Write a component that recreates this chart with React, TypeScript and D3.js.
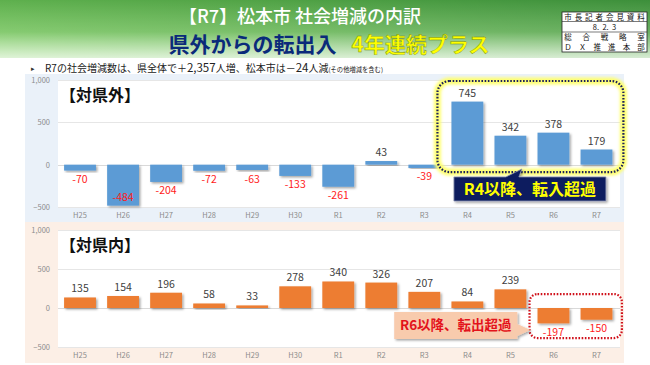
import * as d3 from "d3";
import { useEffect, useRef } from "react";

const years = ["H25", "H26", "H27", "H28", "H29", "H30", "R1", "R2", "R3", "R4", "R5", "R6", "R7"];
const outsideValues = [-70, -484, -204, -72, -63, -133, -261, 43, -39, 745, 342, 378, 179];
const insideValues = [135, 154, 196, 58, 33, 278, 340, 326, 207, 84, 239, -197, -150];
const yTicks = [1000, 500, 0, -500];

const FONT = "'Noto Sans CJK JP', 'Noto Sans', sans-serif";
const W = 650;
const H = 365;

function drawPanel(
  root: d3.Selection<SVGGElement, unknown, null, undefined>,
  opts: {
    values: number[];
    top: number;
    bottom: number;
    bg: [number, number, number, number];
    bgColor: string;
    barColor: string;
    title: string;
  }
) {
  const x = d3.scaleBand<string>().domain(years).range([58.5, 618]).paddingInner(0.26).paddingOuter(0.13);
  const y = d3.scaleLinear().domain([-500, 1000]).range([opts.bottom, opts.top]);
  const [bx, by, bw, bh] = opts.bg;

  const g = root.append("g");
  g.append("rect").attr("x", bx).attr("y", by).attr("width", bw).attr("height", bh).attr("fill", opts.bgColor);
  g.append("rect")
    .attr("x", 58)
    .attr("y", y(1000))
    .attr("width", 620 - 58)
    .attr("height", y(-500) - y(1000))
    .attr("fill", "#fff");

  // grid
  g.selectAll("line.grid")
    .data(yTicks)
    .enter()
    .append("line")
    .attr("x1", 58)
    .attr("x2", 620)
    .attr("y1", (d) => Math.round(y(d)) + 0.5)
    .attr("y2", (d) => Math.round(y(d)) + 0.5)
    .attr("stroke", (d) => (d === 0 ? "#d9d9d9" : "#e6e6e6"))
    .attr("stroke-width", 1);

  g.selectAll("text.ytick")
    .data(yTicks)
    .enter()
    .append("text")
    .attr("x", 50)
    .attr("y", (d) => y(d) + 3)
    .attr("text-anchor", "end")
    .attr("font-size", 7.5)
    .attr("fill", "#8c8c8c")
    .attr("font-family", FONT)
    .text((d) => d3.format(",")(d));

  g.selectAll("text.xtick")
    .data(years)
    .enter()
    .append("text")
    .attr("x", (d) => (x(d) ?? 0) + x.bandwidth() / 2)
    .attr("y", y(-500) + 11)
    .attr("text-anchor", "middle")
    .attr("font-size", 7.5)
    .attr("fill", "#8c8c8c")
    .attr("font-family", FONT)
    .text((d) => d);

  g.append("text")
    .attr("x", 60)
    .attr("y", y(1000) + 21)
    .attr("font-size", 16)
    .attr("font-weight", "bold")
    .attr("fill", "#111")
    .attr("font-family", FONT)
    .text(opts.title);

  const data = years.map((k, i) => ({ k, v: opts.values[i] }));

  g.selectAll("rect.bar")
    .data(data)
    .enter()
    .append("rect")
    .attr("x", (d) => x(d.k) ?? 0)
    .attr("y", (d) => y(Math.max(0, d.v)))
    .attr("width", x.bandwidth())
    .attr("height", (d) => Math.abs(y(d.v) - y(0)))
    .attr("fill", opts.barColor)
    .attr("filter", "url(#shadow)");

  g.selectAll("text.val")
    .data(data)
    .enter()
    .append("text")
    .attr("x", (d) => (x(d.k) ?? 0) + x.bandwidth() / 2)
    .attr("y", (d) => (d.v >= 0 ? y(d.v) - 5 : Math.min(y(d.v) + 12.5, y(-500) - 6)))
    .attr("text-anchor", "middle")
    .attr("font-size", 10.5)
    .attr("fill", (d) => (d.v >= 0 ? "#404040" : "#ff1a1a"))
    .attr("font-family", FONT)
    .text((d) => d.v);

  return { x, y };
}

// spread characters evenly across a row of the stamp box
function spreadRow(
  g: d3.Selection<SVGGElement, unknown, null, undefined>,
  chars: string[],
  x0: number,
  x1: number,
  yPos: number
) {
  const s = d3.scalePoint<number>().domain(d3.range(chars.length)).range([x0, x1]);
  g.selectAll(null)
    .data(chars)
    .enter()
    .append("text")
    .attr("x", (_, i) => s(i) ?? 0)
    .attr("y", yPos)
    .attr("text-anchor", "middle")
    .text((d) => d);
}

export default function App() {
  const ref = useRef<SVGSVGElement>(null);

  useEffect(() => {
    const svgEl = ref.current;
    if (!svgEl) return;
    const svg = d3.select(svgEl);
    svg.selectAll("*").remove();

    const defs = svg.append("defs");
    const hg = defs.append("linearGradient").attr("id", "hdr").attr("x1", "0%").attr("y1", "100%").attr("x2", "100%").attr("y2", "0%");
    hg.append("stop").attr("offset", "0%").attr("stop-color", "#7fd060");
    hg.append("stop").attr("offset", "100%").attr("stop-color", "#3d8f3b");
    const fade = defs.append("linearGradient").attr("id", "fade").attr("x1", "0").attr("y1", "0").attr("x2", "0").attr("y2", "1");
    fade.append("stop").attr("offset", "0%").attr("stop-color", "#fff").attr("stop-opacity", 0);
    fade.append("stop").attr("offset", "55%").attr("stop-color", "#fff").attr("stop-opacity", 0.15);
    fade.append("stop").attr("offset", "100%").attr("stop-color", "#fff").attr("stop-opacity", 0.75);
    const sh = defs.append("filter").attr("id", "shadow").attr("x", "-20%").attr("y", "-20%").attr("width", "150%").attr("height", "150%");
    sh.append("feDropShadow").attr("dx", 1.5).attr("dy", 1.5).attr("stdDeviation", 0.8).attr("flood-color", "#000").attr("flood-opacity", 0.35);
    const glow = defs.append("filter").attr("id", "glow").attr("x", "-10%").attr("y", "-10%").attr("width", "120%").attr("height", "120%");
    glow.append("feGaussianBlur").attr("stdDeviation", 1.5);

    const root = svg.append("g");
    root.append("rect").attr("width", W).attr("height", H).attr("fill", "#fff");

    // header
    root.append("rect").attr("x", 0).attr("y", 0).attr("width", W).attr("height", 58).attr("fill", "url(#hdr)");
    root.append("rect").attr("x", 0).attr("y", 0).attr("width", W).attr("height", 58).attr("fill", "url(#fade)");

    root.append("text")
      .attr("x", 300)
      .attr("y", 23)
      .attr("text-anchor", "middle")
      .attr("font-size", 18)
      .attr("fill", "#fff")
      .attr("font-family", FONT)
      .attr("font-weight", 500)
      .text("【R7】松本市 社会増減の内訳");

    const t2 = root.append("text")
      .attr("x", 329)
      .attr("y", 52)
      .attr("text-anchor", "middle")
      .attr("font-size", 21)
      .attr("font-weight", "bold")
      .attr("font-family", FONT);
    t2.append("tspan").attr("fill", "#0a2a7a").text("県外からの転出入");
    t2.append("tspan")
      .attr("fill", "#ffff00")
      .attr("stroke", "#6a8a20")
      .attr("stroke-width", 0.4)
      .attr("dx", 15)
      .text("4年連続プラス");

    // stamp box
    const bx = 562;
    const bw = 85;
    const stamp = root.append("g").attr("font-family", FONT).attr("font-size", 7.5).attr("fill", "#111");
    stamp.append("rect").attr("x", bx).attr("y", 12).attr("width", bw).attr("height", 40).attr("fill", "#fff").attr("stroke", "#222").attr("stroke-width", 0.8);
    stamp.append("line").attr("x1", bx).attr("x2", bx + bw).attr("y1", 21.5).attr("y2", 21.5).attr("stroke", "#222").attr("stroke-width", 0.6);
    stamp.append("line").attr("x1", bx).attr("x2", bx + bw).attr("y1", 32).attr("y2", 32).attr("stroke", "#222").attr("stroke-width", 0.6);
    spreadRow(stamp, Array.from("市長記者会見資料"), bx + 6, bx + bw - 6, 20);
    stamp.append("text").attr("x", bx + bw / 2).attr("y", 30).attr("text-anchor", "middle").attr("xml:space", "preserve").text("8.  2.  3");
    spreadRow(stamp, Array.from("総合戦略室"), bx + 6, bx + bw - 6, 40);
    spreadRow(stamp, Array.from("ＤＸ推進本部"), bx + 6, bx + bw - 6, 49.5);

    // subtitle
    root.append("text").attr("x", 31).attr("y", 71).attr("font-size", 7).attr("fill", "#333").attr("font-family", FONT).text("▸");
    const sub = root.append("text").attr("x", 45).attr("y", 72).attr("font-size", 10).attr("fill", "#222").attr("font-family", FONT);
    sub.append("tspan").text("R7の社会増減数は、県全体で＋");
    sub.append("tspan").attr("font-size", 11.5).text("2,357");
    sub.append("tspan").text("人増、松本市は－");
    sub.append("tspan").attr("font-size", 11.5).text("24");
    sub.append("tspan").text("人減");
    sub.append("tspan").attr("font-size", 6.3).text("(その他増減を含む)");

    // panels
    const top = drawPanel(root, {
      values: outsideValues,
      top: 80,
      bottom: 207,
      bg: [25, 74, 599, 148],
      bgColor: "#eaf1f9",
      barColor: "#5b9bd5",
      title: "【対県外】",
    });
    const bot = drawPanel(root, {
      values: insideValues,
      top: 230,
      bottom: 347,
      bg: [25, 222, 599, 141],
      bgColor: "#fcefe6",
      barColor: "#ed7d31",
      title: "【対県内】",
    });

    // top annotation (R4-R7)
    {
      const { x, y } = top;
      const x0 = (x("R4") ?? 0) - 14;
      const x1 = (x("R7") ?? 0) + x.bandwidth() + 11;
      const y0 = y(1000) + 1;
      const y1 = y(-87);
      root.append("rect").attr("x", x0).attr("y", y0).attr("width", x1 - x0).attr("height", y1 - y0).attr("rx", 12)
        .attr("fill", "none").attr("stroke", "#ffff70").attr("stroke-width", 7).attr("filter", "url(#glow)");
      root.append("rect").attr("x", x0).attr("y", y0).attr("width", x1 - x0).attr("height", y1 - y0).attr("rx", 12)
        .attr("fill", "none").attr("stroke", "#1a1f5c").attr("stroke-width", 2.2).attr("stroke-dasharray", "1.6 1.6");

      const cx0 = (x("R4") ?? 0) + 2.5;
      const cx1 = (x("R7") ?? 0) + x.bandwidth() - 6.5;
      const cy0 = y(-145);
      const cy1 = y(-429);
      const tipX = (x("R5") ?? 0) + x.bandwidth() * 0.86;
      const tipY = y1 - 3;
      root.append("path")
        .attr("d", `M${cx0},${cy0} H${tipX - 16} L${tipX},${tipY} L${tipX - 3},${cy0} H${cx1} V${cy1} H${cx0} Z`)
        .attr("fill", "#0b1d5e")
        .attr("stroke", "#8a8fb0")
        .attr("stroke-width", 0.8)
        .attr("filter", "url(#shadow)");
      root.append("text")
        .attr("x", (cx0 + cx1) / 2)
        .attr("y", (cy0 + cy1) / 2 + 6)
        .attr("text-anchor", "middle")
        .attr("font-size", 16)
        .attr("font-weight", "bold")
        .attr("fill", "#ffff00")
        .attr("font-family", FONT)
        .text("R4以降、転入超過");
    }

    // bottom annotation (R6-R7)
    {
      const { x, y } = bot;
      const x0 = (x("R6") ?? 0) - 8;
      const x1 = (x("R7") ?? 0) + x.bandwidth() + 9.5;
      const y0 = y(179);
      const y1 = y(-385);
      root.append("rect").attr("x", x0).attr("y", y0).attr("width", x1 - x0).attr("height", y1 - y0).attr("rx", 8)
        .attr("fill", "none").attr("stroke", "#d0101a").attr("stroke-width", 2.2).attr("stroke-dasharray", "1.6 1.6");

      const cx0 = (x("R2") ?? 0) + x.bandwidth() - 3;
      const cx1 = (x("R5") ?? 0) + x.bandwidth() - 9;
      const cy0 = y(-51);
      const cy1 = y(-397);
      const tipX = x0 + 1;
      const tipY = y(-282);
      root.append("path")
        .attr("d", `M${cx0},${cy0} H${cx1} V${cy0 + 12} L${tipX},${tipY} L${cx1},${cy1 - 3} V${cy1} H${cx0} Z`)
        .attr("fill", "#f8cbad")
        .attr("filter", "url(#shadow)");
      root.append("text")
        .attr("x", (cx0 + cx1) / 2)
        .attr("y", (cy0 + cy1) / 2 + 5)
        .attr("text-anchor", "middle")
        .attr("font-size", 13.5)
        .attr("font-weight", "bold")
        .attr("fill", "#e3131b")
        .attr("font-family", FONT)
        .text("R6以降、転出超過");
    }
  }, []);

  return (
    <svg
      ref={ref}
      width={W}
      height={H}
      style={{ position: "absolute", left: 0, top: 0, display: "block" }}
    />
  );
}
